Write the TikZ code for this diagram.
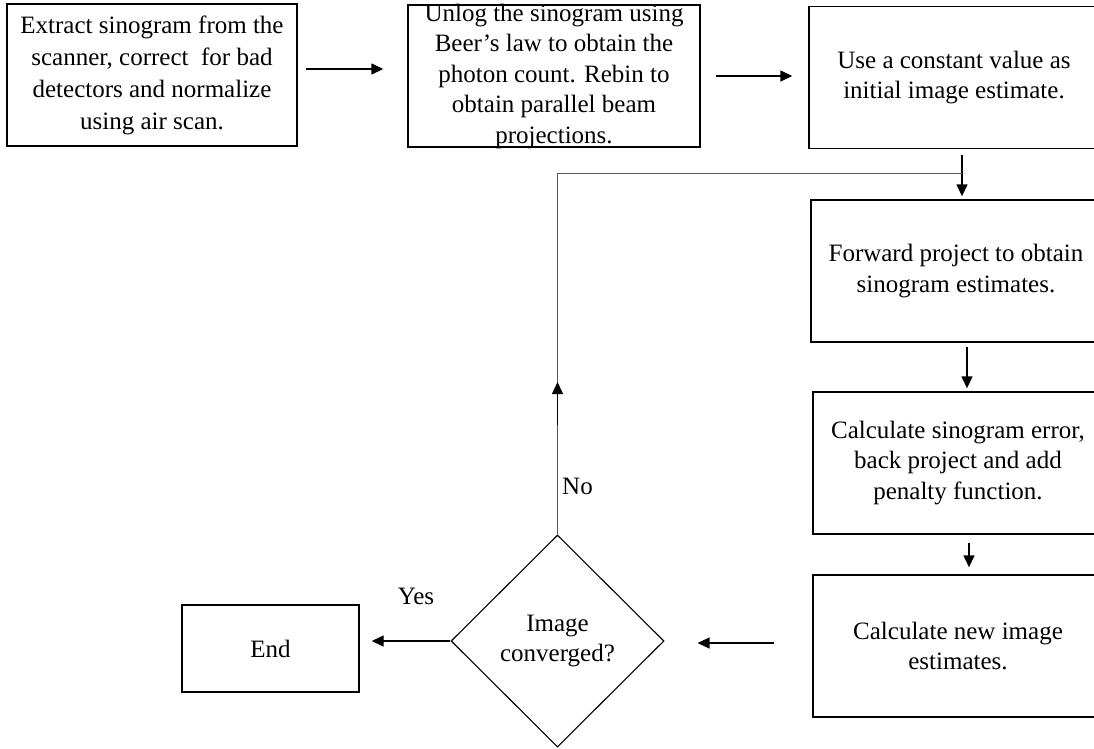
\documentclass[tikz,border=0pt]{standalone}
\usepackage{fontspec}
\setmainfont{Liberation Serif}
\usetikzlibrary{arrows.meta,shapes.geometric}
\begin{document}
\begin{tikzpicture}[x=1pt,y=-1pt,
  stepbox/.style={draw, rectangle, line width=1.4pt, minimum width=290pt, minimum height=142pt, inner sep=0pt},
  steptext/.style={align=center, inner sep=0pt, font=\fontsize{25}{30.5}\selectfont},
  flow/.style={line width=1.4pt, -{Triangle[length=12pt,width=11pt]}},
  loopline/.style={line width=1pt, draw=black!65},
  lbl/.style={inner sep=0pt, font=\fontsize{25}{30}\selectfont}]
\clip (0,0) rectangle (1094,748);

% process boxes
\node[stepbox] (b1) at (152,75) {};
\node[steptext, font=\fontsize{25}{32}\selectfont] (t1) at (b1) {Extract sinogram from the\\scanner, correct~ for bad\\detectors and normalize\\using air scan.};
\node[stepbox, minimum width=292pt] (b2) at (554,76) {};
\node[steptext] (t2) at (b2) {Unlog the sinogram using\\Beer’s law to obtain the\\photon count. Rebin to\\obtain parallel beam\\projections.};
\node[stepbox] (b3) at (954,77.5) {};
\node[steptext] (t3) at (b3) {Use a constant value as\\initial image estimate.};
\node[stepbox] (b4) at (956,271) {};
\node[steptext] (t4) at (b4) {Forward project to obtain\\sinogram estimates.};
\node[stepbox] (b5) at (958,463) {};
\node[steptext] (t5) at (b5) {Calculate sinogram error,\\back project and add\\penalty function.};
\node[stepbox] (b6) at (958,646) {};
\node[steptext] (t6) at (b6) {Calculate new image\\estimates.};

% decision and end
\node[draw, diamond, line width=1.1pt, minimum width=213pt, minimum height=212pt, inner sep=0pt, align=center, font=\fontsize{25}{30}\selectfont] (dia) at (557.5,641) {Image\\converged?};
\node[draw, rectangle, line width=1.4pt, minimum width=177pt, minimum height=87pt, font=\fontsize{25}{30}\selectfont] (fin) at (270.5,648.5) {End};

\node[lbl, anchor=west] (no) at (562,486) {No};
\node[lbl] (yes) at (416,596) {Yes};

% forward connectors
\coordinate (a1) at ([yshift=6pt]b1.east);
\draw[flow, shorten <=8pt, shorten >=24pt] (a1) -- (a1 -| b2.west);
\draw[flow, shorten <=15pt, shorten >=16pt] (b2.east) -- (b2.east -| b3.west);
\coordinate (a3) at ([xshift=8pt]b3.south);
\draw[flow, shorten <=6pt, shorten >=3pt] (a3) -- (a3 |- b4.north);
\coordinate (a4) at ([xshift=11pt]b4.south);
\draw[flow, shorten <=4pt, shorten >=3pt] (a4) -- (a4 |- b5.north);
\coordinate (a5) at ([xshift=11pt]b5.south);
\draw[flow, shorten <=8pt, shorten >=7pt] (a5) -- (a5 |- b6.north);
\coordinate (a6) at ([yshift=3pt]b6.west);
\draw[flow, shorten <=38pt, shorten >=33pt] (a6) -- (a6 -| dia.east);
\draw[flow, shorten >=12pt] (dia.west) -- (dia.west -| fin.east);

% feedback loop
\coordinate (join) at (962,173);
\draw[loopline] (dia.north) |- (join);
\coordinate (upa) at (dia.north |- 0,425);
\coordinate (upb) at (dia.north |- 0,382);
\draw[flow] (upa) -- (upb);
\end{tikzpicture}
\end{document}
